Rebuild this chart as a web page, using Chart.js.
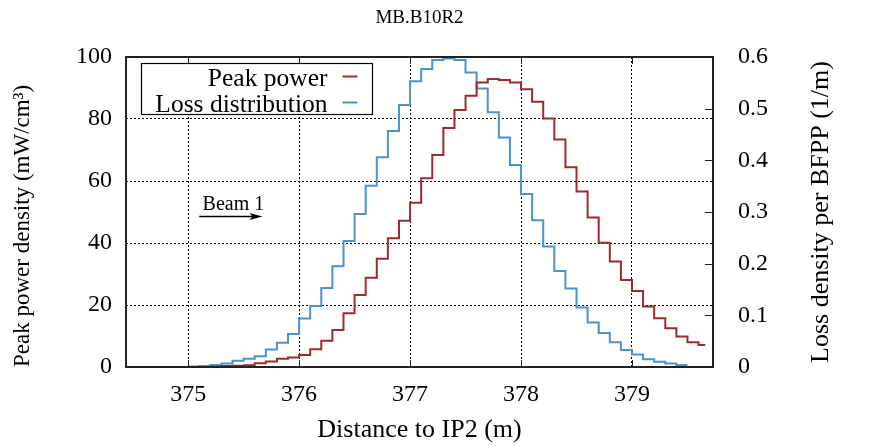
<!DOCTYPE html>
<html>
<head>
<meta charset="utf-8">
<title>MB.B10R2</title>
<script src="https://cdn.jsdelivr.net/npm/chart.js@4.4.1/dist/chart.umd.min.js"></script>
<style>
  html, body { margin: 0; padding: 0; background: #fff; }
  #wrap { width: 873px; height: 446px; }
</style>
</head>
<body>
<div id="wrap"><canvas id="lossChart" width="873" height="446"></canvas></div>
<script>
// bin start positions (m), bins are 0.1 m wide
const binStart = [
  374.4, 374.5, 374.6, 374.7, 374.8, 374.9,
  375.0, 375.1, 375.2, 375.3, 375.4, 375.5, 375.6, 375.7, 375.8, 375.9,
  376.0, 376.1, 376.2, 376.3, 376.4, 376.5, 376.6, 376.7, 376.8, 376.9,
  377.0, 377.1, 377.2, 377.3, 377.4, 377.5, 377.6, 377.7, 377.8, 377.9,
  378.0, 378.1, 378.2, 378.3, 378.4, 378.5, 378.6, 378.7, 378.8, 378.9,
  379.0, 379.1, 379.2, 379.3, 379.4, 379.5, 379.6
];
// Peak power density (mW/cm3), left axis
const peakPower = [
  0, 0, 0, 0, 0, 0,
  0, 0, 0.1, 0.3, 0.4, 0.6, 1.2, 1.8, 2.7, 3.1,
  3.9, 5.7, 8.5, 11.9, 17.3, 23.2, 28.8, 34.9, 41.5, 47.2,
  53.0, 60.9, 68.4, 77.1, 82.9, 87.5, 91.8, 92.9, 92.6, 91.8,
  89.6, 85.6, 80.2, 73.4, 64.4, 56.6, 48.2, 40.1, 34.0, 28.1,
  24.5, 19.5, 15.7, 12.5, 9.8, 8.0, 7.1
];
const peakEnd = 379.66;
// Loss density per BFPP (1/m), right axis
const lossDist = [
  0, 0, 0, 0, 0, 0,
  0.001, 0.002, 0.004, 0.007, 0.012, 0.016, 0.021, 0.034, 0.047, 0.064,
  0.094, 0.118, 0.153, 0.195, 0.244, 0.296, 0.351, 0.406, 0.457, 0.507,
  0.553, 0.577, 0.594, 0.597, 0.594, 0.570, 0.539, 0.493, 0.444, 0.391,
  0.335, 0.284, 0.233, 0.186, 0.152, 0.115, 0.086, 0.066, 0.048, 0.033,
  0.024, 0.015, 0.010, 0.007, 0.004
];
const lossEnd = 379.5;

const seriesNames = ['Peak power', 'Loss distribution'];
const xTicks = [375, 376, 377, 378, 379];
const yTicks = [0, 20, 40, 60, 80, 100];
const y2Ticks = [0, 0.1, 0.2, 0.3, 0.4, 0.5, 0.6];
const y2Labels = ['0', '0.1', '0.2', '0.3', '0.4', '0.5', '0.6'];

const RED = '#9e2a2b';
const BLUE = '#4a92d2';
const SERIF = "'Liberation Serif', 'DejaVu Serif', serif";

function steps(xs, ys, end) {
  const pts = ys.map((v, i) => ({ x: xs[i], y: v }));
  pts.push({ x: end, y: ys[ys.length - 1] });
  return pts;
}

// frame, inward ticks, boxed legend, beam arrow, right axis title
const extras = {
  id: 'extras',
  afterDraw(chart) {
    const { ctx, chartArea: a, scales } = chart;
    const L = Math.round(a.left), R = Math.round(a.right);
    const T = Math.round(a.top), B = Math.round(a.bottom);
    ctx.save();
    ctx.setLineDash([]);
    ctx.strokeStyle = '#222';
    ctx.lineWidth = 2;
    ctx.beginPath();
    ctx.moveTo(L, T);
    ctx.lineTo(R, T);
    ctx.lineTo(R, B);
    ctx.lineTo(L, B);
    ctx.closePath();
    ctx.stroke();

    ctx.fillStyle = '#222';
    y2Ticks.forEach(v => {
      const py = Math.round(scales.y2.getPixelForValue(v));
      ctx.fillRect(R - 8, py, 8, 1);
    });
    xTicks.forEach(v => {
      const px = Math.round(scales.x.getPixelForValue(v));
      ctx.fillRect(px, T, 1, 7);
      ctx.fillRect(px, B - 7, 1, 7);
    });

    // legend box
    const bx = L + 15.5, by = T + 6.5, bw = 231, bh = 51;
    ctx.fillStyle = '#fff';
    ctx.fillRect(bx, by, bw, bh);
    ctx.strokeStyle = '#000';
    ctx.lineWidth = 1.2;
    ctx.strokeRect(bx, by, bw, bh);
    ctx.font = '25.5px ' + SERIF;
    ctx.fillStyle = '#000';
    ctx.textAlign = 'right';
    ctx.textBaseline = 'alphabetic';
    const cols = [RED, BLUE];
    seriesNames.forEach((name, i) => {
      const base = by + 22 + i * 26;
      ctx.fillText(name, bx + 186, base);
      ctx.beginPath();
      ctx.strokeStyle = cols[i];
      ctx.lineWidth = 2;
      ctx.moveTo(bx + 201, base - 9);
      ctx.lineTo(bx + 216, base - 9);
      ctx.stroke();
    });

    // Beam 1 arrow
    const x0 = scales.x.getPixelForValue(375.1);
    const x1 = scales.x.getPixelForValue(375.67);
    const ya = Math.round(scales.y.getPixelForValue(48.7)) + 0.5;
    ctx.fillStyle = '#000';
    ctx.strokeStyle = '#000';
    ctx.lineWidth = 1.5;
    ctx.font = '20px ' + SERIF;
    ctx.textAlign = 'left';
    ctx.fillText('Beam 1', scales.x.getPixelForValue(375.13), scales.y.getPixelForValue(50.6));
    ctx.beginPath();
    ctx.moveTo(x0, ya);
    ctx.lineTo(x1 - 6, ya);
    ctx.stroke();
    ctx.beginPath();
    ctx.moveTo(x1, ya);
    ctx.lineTo(x1 - 13, ya - 3.5);
    ctx.lineTo(x1 - 10, ya);
    ctx.lineTo(x1 - 13, ya + 3.5);
    ctx.closePath();
    ctx.fill();

    // right axis title, reading bottom to top
    ctx.translate(a.right + 108, (a.top + a.bottom) / 2);
    ctx.rotate(-Math.PI / 2);
    ctx.textAlign = 'center';
    ctx.textBaseline = 'middle';
    ctx.font = '26px ' + SERIF;
    ctx.fillText('Loss density per BFPP (1/m)', 0, 0);
    ctx.restore();
  }
};

document.addEventListener('DOMContentLoaded', () => {
  const ctx = document.getElementById('lossChart').getContext('2d');
  new Chart(ctx, {
    type: 'line',
    data: {
      datasets: [{
        label: seriesNames[0],
        data: steps(binStart, peakPower, peakEnd),
        borderColor: RED,
        borderWidth: 2,
        stepped: 'before',
        pointRadius: 0,
        fill: false,
        yAxisID: 'y'
      }, {
        label: seriesNames[1],
        data: steps(binStart, lossDist, lossEnd),
        borderColor: BLUE,
        borderWidth: 2,
        stepped: 'before',
        pointRadius: 0,
        fill: false,
        yAxisID: 'y2'
      }]
    },
    options: {
      responsive: false,
      animation: false,
      events: [],
      layout: { padding: 0 },
      plugins: {
        legend: { display: false },
        tooltip: { enabled: false },
        title: {
          display: true,
          fullSize: false,
          text: 'MB.B10R2',
          color: '#000',
          font: { family: SERIF, size: 19, weight: 'normal' },
          padding: { top: 7, bottom: 27.2 }
        }
      },
      scales: {
        x: {
          type: 'linear',
          min: 374.44,
          max: 379.73,
          afterBuildTicks: s => { s.ticks = xTicks.map(v => ({ value: v })); },
          afterFit: s => { s.height = 79; },
          ticks: {
            color: '#000',
            font: { family: SERIF, size: 24 },
            padding: 13,
            maxRotation: 0,
            callback: v => String(v)
          },
          grid: { color: '#000', lineWidth: 1, drawTicks: false },
          border: { display: false, dash: [2, 2] },
          title: {
            display: true,
            text: 'Distance to IP2 (m)',
            color: '#000',
            font: { family: SERIF, size: 26 },
            padding: { top: 0, bottom: 0 }
          }
        },
        y: {
          position: 'left',
          min: 0,
          max: 100,
          afterBuildTicks: s => { s.ticks = yTicks.map(v => ({ value: v })); },
          afterFit: s => { s.width = 126; },
          ticks: {
            color: '#000',
            font: { family: SERIF, size: 24 },
            padding: 14,
            callback: v => String(v)
          },
          grid: { color: '#000', lineWidth: 1, drawTicks: false },
          border: { display: false, dash: [2, 2] },
          title: {
            display: true,
            align: 'start',
            text: 'Peak power density (mW/cm³)',
            color: '#000',
            font: { family: SERIF, size: 23 },
            padding: { top: 9, bottom: 0 }
          }
        },
        y2: {
          position: 'right',
          min: 0,
          max: 0.6,
          afterBuildTicks: s => { s.ticks = y2Ticks.map(v => ({ value: v })); },
          afterFit: s => { s.width = 160; },
          ticks: {
            color: '#000',
            font: { family: SERIF, size: 24 },
            padding: 25,
            callback: (v, i) => y2Labels[i]
          },
          grid: { display: false, drawTicks: false },
          border: { display: false }
        }
      }
    },
    plugins: [extras]
  });
});
</script>
</body>
</html>
